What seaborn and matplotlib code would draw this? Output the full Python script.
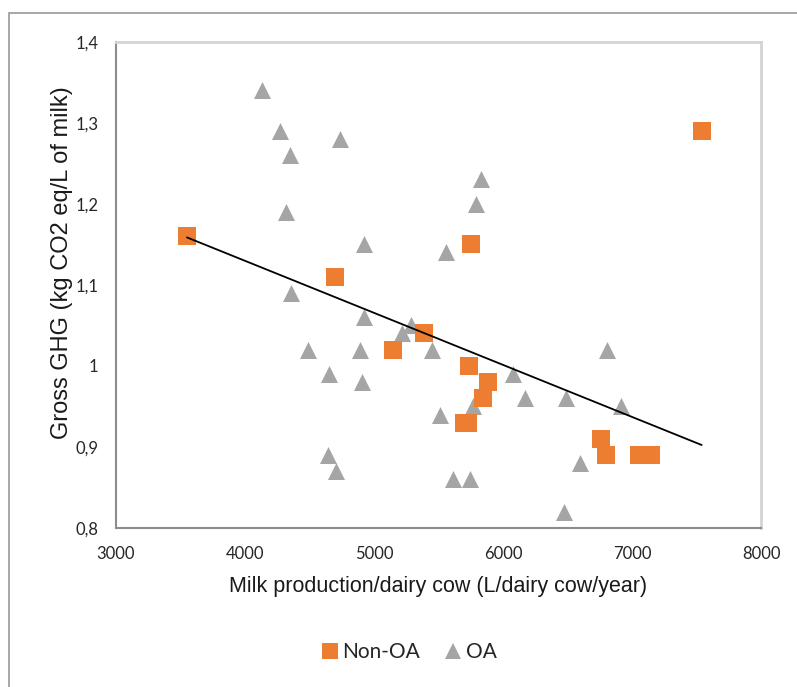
import numpy as np
import pandas as pd
import seaborn as sns
import matplotlib.pyplot as plt
from matplotlib.lines import Line2D
from matplotlib.patches import Rectangle
from matplotlib.ticker import FuncFormatter

# Datos
non_oa_milk = [3550, 4700, 5150, 5385, 5755, 5740, 5880, 5845, 5695, 5730,
               6760, 6795, 7055, 7145, 7540]
non_oa_ghg = [1.16, 1.11, 1.02, 1.04, 1.15, 1.00, 0.98, 0.96, 0.93, 0.93,
              0.91, 0.89, 0.89, 0.89, 1.29]

oa_milk = [4130, 4275, 4735, 4345, 4315, 4925, 5560, 4360, 5830, 5790,
           4925, 5220, 5285, 5450, 4485, 4895, 4650, 4905, 5515, 5765,
           4640, 4705, 5615, 5745, 6805, 6075, 6170, 6485, 6915, 6600, 6475]
oa_ghg = [1.34, 1.29, 1.28, 1.26, 1.19, 1.15, 1.14, 1.09, 1.23, 1.20,
          1.06, 1.04, 1.05, 1.02, 1.02, 1.02, 0.99, 0.98, 0.94, 0.95,
          0.89, 0.87, 0.86, 0.86, 1.02, 0.99, 0.96, 0.96, 0.95, 0.88, 0.82]

x_ticks = [3000, 4000, 5000, 6000, 7000, 8000]
y_ticks = [0.8, 0.9, 1.0, 1.1, 1.2, 1.3, 1.4]

df = pd.DataFrame({
    'milk': non_oa_milk + oa_milk,
    'ghg': non_oa_ghg + oa_ghg,
    'grupo': ['Non-OA'] * len(non_oa_milk) + ['OA'] * len(oa_milk),
})

colores = {'Non-OA': '#ED7D31', 'OA': '#A5A5A5'}
marcadores = {'Non-OA': 's', 'OA': '^'}

sns.set_style('white')
plt.rcParams['font.family'] = ['Liberation Sans', 'DejaVu Sans']

fig = plt.figure(figsize=(7.97, 6.87), dpi=100)
ax = fig.add_axes([116 / 797, 1 - 528 / 687, 645 / 797, 486.3 / 687])

# OA primero, luego Non-OA encima
for grupo in ['OA', 'Non-OA']:
    sub = df[df['grupo'] == grupo]
    sns.scatterplot(data=sub, x='milk', y='ghg', marker=marcadores[grupo],
                    color=colores[grupo], s=150, linewidth=0, ax=ax,
                    legend=False, zorder=3)

# Linea de tendencia lineal (todos los datos)
coef = np.polyfit(df['milk'], df['ghg'], 1)
xs = np.array([df['milk'].min(), df['milk'].max()])
ax.plot(xs, np.polyval(coef, xs), color='black', linewidth=1.3, zorder=4)

ax.set_xlim(3000, 8000)
ax.set_ylim(0.8, 1.4)
ax.set_xticks(x_ticks)
ax.set_yticks(y_ticks)
ax.yaxis.set_major_formatter(FuncFormatter(lambda v, p: f'{v:g}'.replace('.', ',')))

for lab in ax.get_xticklabels() + ax.get_yticklabels():
    lab.set_family(['Lato', 'DejaVu Sans'])
    lab.set_fontsize(12)
    lab.set_color('#262626')

ax.tick_params(axis='both', direction='inout', length=8.6, width=1.2,
               color='#8c8c8c')
ax.tick_params(axis='y', pad=8.5)
ax.tick_params(axis='x', pad=9)

ax.set_xlabel('Milk production/dairy cow (L/dairy cow/year)', fontsize=15.5,
              color='#1a1a1a', labelpad=10)
ax.set_ylabel('Gross GHG (kg CO2 eq/L of milk)', fontsize=17,
              color='#1a1a1a')
ax.yaxis.set_label_coords(-0.066, 0.546)

for lado in ['left', 'bottom']:
    ax.spines[lado].set_color('#8c8c8c')
    ax.spines[lado].set_linewidth(1.5)
for lado in ['top', 'right']:
    ax.spines[lado].set_color('#d4d4d4')
    ax.spines[lado].set_linewidth(2)

# Leyenda abajo
handles = [
    Line2D([], [], marker='s', color=colores['Non-OA'], linestyle='none',
           markersize=11.5, markeredgewidth=0),
    Line2D([], [], marker='^', color=colores['OA'], linestyle='none',
           markersize=11.5, markeredgewidth=0),
]
fig.legend(handles, ['Non-OA', 'OA'], loc='center',
           bbox_to_anchor=(408 / 797, 1 - 652 / 687), ncol=2, frameon=False,
           prop={'family': ['Lato', 'DejaVu Sans'], 'size': 15},
           handletextpad=0.1, columnspacing=1.1, handlelength=1.0)

# Marco exterior del grafico
fig.add_artist(Rectangle((8.5 / 797, -0.1), 1.2, 1.1 - 12.5 / 687,
                         transform=fig.transFigure, fill=False,
                         edgecolor='#a0a0a0', linewidth=1.3, clip_on=False))

fig.savefig('out.png', dpi=100)
